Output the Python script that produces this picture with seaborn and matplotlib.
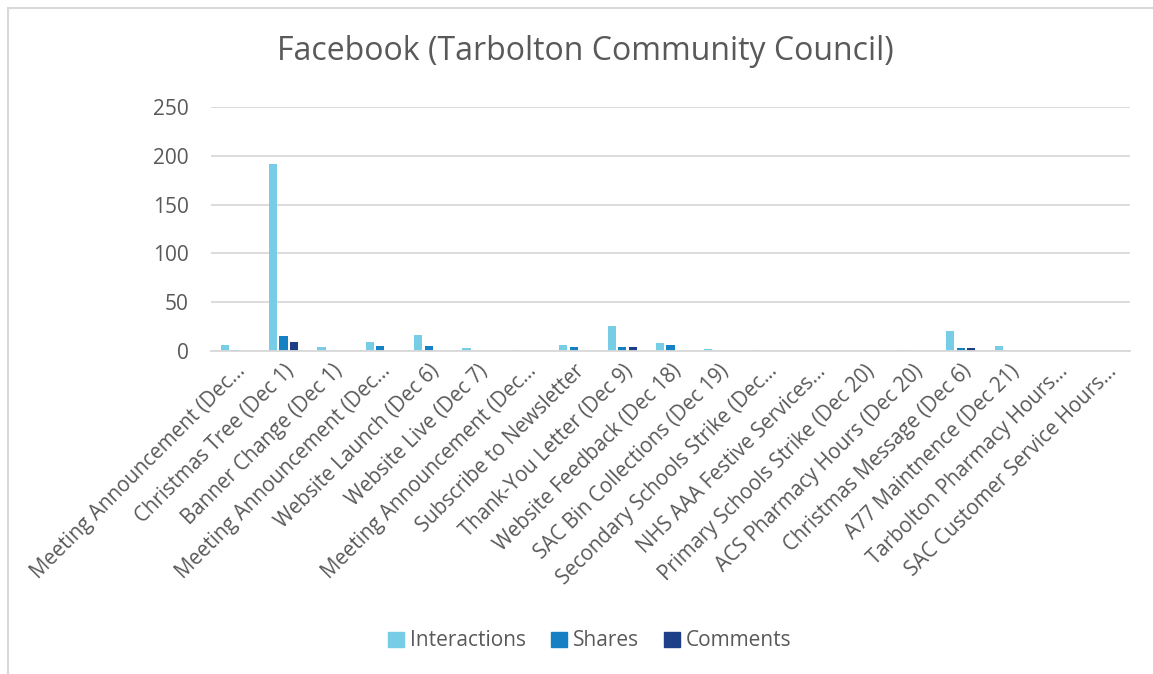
import matplotlib
matplotlib.use("Agg")
import matplotlib.pyplot as plt
import seaborn as sns
import pandas as pd
from matplotlib.patches import Rectangle

categories = [
    "Meeting Announcement (Dec...",
    "Christmas Tree (Dec 1)",
    "Banner Change (Dec 1)",
    "Meeting Announcement (Dec...",
    "Website Launch (Dec 6)",
    "Website Live (Dec 7)",
    "Meeting Announcement (Dec...",
    "Subscribe to Newsletter",
    "Thank-You Letter (Dec 9)",
    "Website Feedback (Dec 18)",
    "SAC Bin Collections (Dec 19)",
    "Secondary Schools Strike (Dec...",
    "NHS AAA Festive Services...",
    "Primary Schools Strike (Dec 20)",
    "ACS Pharmacy Hours (Dec 20)",
    "Christmas Message (Dec 6)",
    "A77 Maintnence (Dec 21)",
    "Tarbolton Pharmacy Hours...",
    "SAC Customer Service Hours...",
]
interactions = [6, 192, 4, 9, 16, 3, 1, 6, 26, 8, 2, 1, 0, 0, 1, 20, 5, 0, 0]
shares = [1, 15, 0, 5, 5, 0, 0, 4, 4, 6, 0, 0, 0, 0, 0, 3, 0, 0, 0]
comments = [0, 9, 0, 0, 0, 0, 0, 0, 4, 0, 0, 0, 0, 0, 0, 3, 0, 0, 0]
series_names = ["Interactions", "Shares", "Comments"]
y_ticks = [0, 50, 100, 150, 200, 250]

colors = ["#78CDE6", "#1580C4", "#1C3F87"]
text_color = "#595959"

rows = []
for i, c in enumerate(categories):
    for name, vals in zip(series_names, [interactions, shares, comments]):
        rows.append({"pos": i, "cat": c, "series": name, "value": vals[i]})
df = pd.DataFrame(rows)

sns.set_theme(style="white")
plt.rcParams["font.family"] = ["Open Sans", "DejaVu Sans"]

fig = plt.figure(figsize=(11.53, 6.74), dpi=100)
ax = fig.add_axes([211 / 1153, 1 - 351 / 674, (1130 - 211) / 1153, (351 - 107) / 674])

sns.barplot(data=df, x="pos", y="value", hue="series", hue_order=series_names,
            palette=colors, saturation=1, width=0.65, gap=0.22, ax=ax, legend=False,
            linewidth=0, errorbar=None)

ax.set_ylim(0, 250)
ax.set_yticks(y_ticks)
ax.set_yticklabels([str(t) for t in y_ticks], color=text_color, fontsize=15)
ax.set_xlim(-0.5, len(categories) - 0.5)
ax.set_xticks(range(len(categories)))
ax.set_xticklabels(categories, rotation=45, ha="right", rotation_mode="anchor",
                   color=text_color, fontsize=14.8)
ax.tick_params(axis="x", length=0, pad=7)
ax.tick_params(axis="y", length=0, pad=16)
ax.set_xlabel("")
ax.set_ylabel("")
ax.yaxis.grid(True, color="#D9D9D9", linewidth=1.3)
ax.set_axisbelow(True)
for s in ["top", "right", "left"]:
    ax.spines[s].set_visible(False)
ax.spines["bottom"].set_color("#D9D9D9")
ax.spines["bottom"].set_linewidth(1.3)

fig.text(585 / 1153, 1 - 52 / 674, "Facebook (Tarbolton Community Council)",
         ha="center", va="center", fontsize=23, color=text_color)

handles = [Rectangle((0, 0), 1, 1, color=c) for c in colors]
fig.legend(handles, series_names, loc="center", bbox_to_anchor=(590 / 1153, 1 - 641 / 674),
           ncol=3, frameon=False, handlelength=0.75, handleheight=0.75, handletextpad=0.3,
           columnspacing=1.2, fontsize=15, labelcolor=text_color)

# chart frame
fig.add_artist(Rectangle((8 / 1153, -0.1), 1.2, 1 - 8 / 674 + 0.1, transform=fig.transFigure,
                         fill=False, edgecolor="#D9D9D9", linewidth=1.5))

fig.savefig("out.png", dpi=100)
